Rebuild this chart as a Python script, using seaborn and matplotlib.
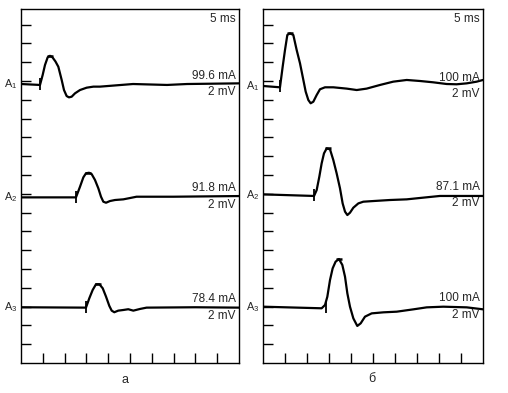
import numpy as np
import pandas as pd
import seaborn as sns
import matplotlib
matplotlib.use("Agg")
import matplotlib.pyplot as plt

# ---- data (time in ms, deflection from baseline in mV) ----
left_A1_t = [0, 4.36, 4.97, 5.5, 6.12, 6.65, 7.2, 7.9, 8.56, 9.33, 9.86, 10.47, 11.0, 11.62, 12.39, 13.53, 15.06, 16.6, 18.1, 25.7, 33.5, 38.1, 50]
left_A1_v = [0, -0.1, 0.96, 2.02, 2.84, 3.0, 2.85, 2.4, 1.84, 0.43, -0.64, -1.28, -1.42, -1.35, -0.99, -0.64, -0.39, -0.28, -0.28, 0, -0.1, 0, 0.07]
left_A2_t = [0, 12.61, 13.53, 14.3, 14.9, 15.6, 16.2, 16.97, 17.74, 18.35, 18.88, 19.5, 20.4, 21.56, 23.47, 25.0, 26.5, 35, 50]
left_A2_v = [-0.07, -0.07, 1.06, 2.06, 2.49, 2.55, 2.41, 1.78, 0.89, 0, -0.53, -0.64, -0.46, -0.35, -0.28, -0.14, 0, 0, 0.07]
left_A3_t = [0, 14.9, 15.67, 16.44, 17.2, 17.97, 18.74, 19.5, 20.26, 20.8, 21.4, 22.3, 23.47, 24.6, 25.76, 27.3, 28.8, 40, 50]
left_A3_v = [0, -0.04, 0.96, 1.84, 2.45, 2.45, 2.02, 1.13, 0.14, -0.36, -0.53, -0.36, -0.29, -0.21, -0.36, -0.18, -0.04, 0, -0.04]

right_A1_t = [0, 3.86, 4.47, 5.0, 5.53, 6.14, 6.89, 7.65, 8.41, 9.17, 9.7, 10.3, 10.83, 11.44, 12.2, 12.95, 14.09, 15.98, 19.02, 21.3, 23.56, 26.6, 29.6, 32.66, 35.7, 38.7, 41.75, 44.0, 46.3, 48.57, 50]
right_A1_v = [0, -0.14, 2.05, 3.83, 5.43, 5.6, 5.43, 3.83, 2.41, 0.64, -0.6, -1.49, -1.84, -1.67, -0.96, -0.35, -0.14, -0.14, -0.28, -0.43, -0.28, 0.11, 0.46, 0.64, 0.53, 0.39, 0.21, 0.18, 0.28, 0.46, 0.64]
right_A2_t = [0, 11.6, 12.2, 12.8, 13.33, 13.86, 14.47, 15.23, 15.98, 16.74, 17.5, 18.1, 18.64, 19.17, 19.77, 20.53, 21.67, 22.8, 25.07, 28.86, 32.66, 36.4, 40.2, 50]
right_A2_v = [0.07, -0.1, 0.53, 1.95, 3.37, 4.43, 4.96, 4.86, 3.72, 2.3, 0.71, -0.89, -1.77, -2.13, -1.88, -1.35, -0.89, -0.71, -0.64, -0.53, -0.46, -0.28, -0.1, -0.1]
right_A3_t = [0, 13.33, 14.09, 14.62, 15.23, 15.83, 16.5, 17.27, 18.03, 18.64, 19.17, 19.77, 20.53, 21.43, 22.2, 23.18, 24.7, 27.35, 30.4, 34.2, 37.2, 40.98, 46.3, 50]
right_A3_v = [0, -0.17, 0.18, 1.06, 2.84, 4.08, 4.79, 5.07, 4.44, 3.19, 1.42, 0, -1.24, -2.05, -1.77, -1.06, -0.71, -0.6, -0.53, -0.28, -0.07, 0, -0.07, -0.28]

left_baselines = [29.68, 17.69, 5.93]
right_baselines = [29.47, 17.87, 5.99]
left_onsets = [4.36, 12.61, 14.9]
right_onsets = [3.86, 11.6, 14.3]
left_peaks_t = [6.65, 15.3, 17.6]
left_peaks_v = [3.0, 2.55, 2.45]
right_peaks_t = [6.14, 14.7, 17.27]
right_peaks_v = [5.6, 4.96, 5.07]

left_currents = ["99.6 mA", "91.8 mA", "78.4 mA"]
right_currents = ["100 mA", "87.1 mA", "100 mA"]
channel_labels = ["A$_1$", "A$_2$", "A$_3$"]
panel_labels = ["а", "б"]
time_scale = "5 ms"
volt_scale = "2 mV"

# ---- style ----
sns.set_style("white")
plt.rcParams["font.family"] = ["Liberation Sans", "DejaVu Sans"]
plt.rcParams["mathtext.fontset"] = "custom"
plt.rcParams["mathtext.rm"] = "Liberation Sans"
plt.rcParams["mathtext.it"] = "Liberation Sans"
plt.rcParams["mathtext.default"] = "regular"

fig = plt.figure(figsize=(5.08, 3.93), dpi=100)
ax_l = fig.add_axes([21 / 508, 30 / 393, 218 / 508, 354 / 393])
ax_r = fig.add_axes([263 / 508, 30 / 393, 220 / 508, 354 / 393])

panels = [
    (ax_l, [(left_A1_t, left_A1_v), (left_A2_t, left_A2_v), (left_A3_t, left_A3_v)],
     left_baselines, left_onsets, left_peaks_t, left_peaks_v, left_currents),
    (ax_r, [(right_A1_t, right_A1_v), (right_A2_t, right_A2_v), (right_A3_t, right_A3_v)],
     right_baselines, right_onsets, right_peaks_t, right_peaks_v, right_currents),
]

for ax, traces, bases, onsets, pk_t, pk_v, currents in panels:
    for i, (t, v) in enumerate(traces):
        y = np.array(v) + bases[i]
        sns.lineplot(x=t, y=y, ax=ax, color="black", lw=1.6, sort=False, estimator=None)
        ax.plot([onsets[i]], [bases[i]], marker="|", ms=9, mew=1.3, color="black")
        ax.plot([pk_t[i]], [pk_v[i] + bases[i]], marker="_", ms=5, mew=1.8, color="black")
        ax.text(0.985, bases[i] + 0.25, currents[i], transform=ax.get_yaxis_transform(),
                ha="right", va="bottom", fontsize=8.5)
        ax.text(0.985, bases[i] - 0.25, volt_scale, transform=ax.get_yaxis_transform(),
                ha="right", va="top", fontsize=8.5)
        ax.annotate(channel_labels[i], xy=(0, bases[i]), xycoords=ax.get_yaxis_transform(),
                    xytext=(-3, 0), textcoords="offset points", ha="right", va="center",
                    fontsize=7.8)
    ax.text(0.985, 0.99, time_scale, transform=ax.transAxes, ha="right", va="top", fontsize=8.5)
    ax.set_xlim(0, 50)
    ax.set_ylim(0, 37.66)
    ax.set_xticks(np.arange(5, 50, 5))
    ax.set_yticks(np.arange(2, 37, 2))
    ax.set_xticklabels([])
    ax.set_yticklabels([])
    ax.tick_params(axis="both", direction="in", length=7, width=1.0, color="black",
                   bottom=True, left=True, top=False, right=False)
    for s in ax.spines.values():
        s.set_color("black")
        s.set_linewidth(1.0)
    ax.set_xlabel("")
    ax.set_ylabel("")

fig.text(125.5 / 508, 1 - 380 / 393, panel_labels[0], ha="center", va="center", fontsize=9)
fig.text(372 / 508, 1 - 379 / 393, panel_labels[1], ha="center", va="center", fontsize=9)

fig.savefig("out.png", dpi=100)
